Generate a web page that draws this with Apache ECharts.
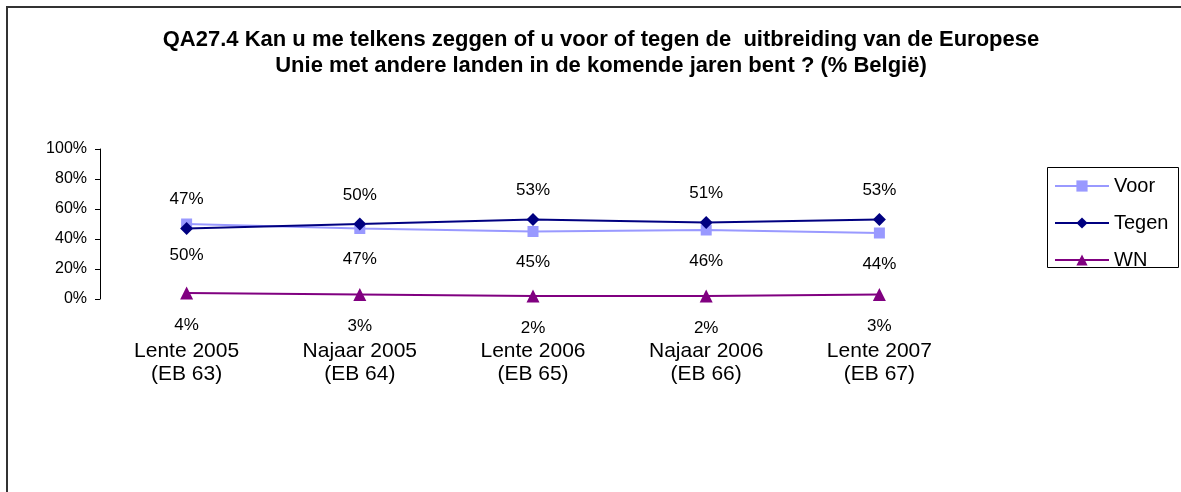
<!DOCTYPE html>
<html>
<head>
<meta charset="utf-8">
<script src="https://cdn.jsdelivr.net/npm/echarts@6/dist/echarts.min.js"></script>
<style>
  html, body { margin: 0; padding: 0; background: #fff; }
  #chart { width: 1181px; height: 492px; }
</style>
</head>
<body>
<div id="chart"></div>
<script>
// Survey waves (Eurobarometer) and answers in percent
const categories = ['Lente 2005\n(EB 63)', 'Najaar 2005\n(EB 64)', 'Lente 2006\n(EB 65)', 'Najaar 2006\n(EB 66)', 'Lente 2007\n(EB 67)'];
const voor = [50, 47, 45, 46, 44];
const tegen = [47, 50, 53, 51, 53];
const wn = [4, 3, 2, 2, 3];
const yTicks = [0, 20, 40, 60, 80, 100];

const titleLines = [
  'QA27.4 Kan u me telkens zeggen of u voor of tegen de  uitbreiding van de Europese',
  'Unie met andere landen in de komende jaren bent ? (% België)'
];

const FONT = '"Liberation Sans", Arial, sans-serif';

const chart = echarts.init(document.getElementById('chart'));

function lineSeries(name, data, color, symbol, size, labelPos, dist) {
  return {
    name: name,
    type: 'line',
    data: data,
    symbol: symbol,
    symbolSize: size,
    showAllSymbol: true,
    lineStyle: { color: color, width: 2 },
    itemStyle: { color: color },
    label: {
      show: true,
      position: labelPos,
      distance: dist,
      formatter: '{c}%',
      color: '#000',
      fontFamily: FONT,
      fontSize: 17
    },
    emphasis: { disabled: true },
    animation: false
  };
}

chart.setOption({
  animation: false,
  title: {
    text: titleLines.join('\n'),
    left: 596,
    top: 22,
    textAlign: 'center',
    textStyle: {
      fontFamily: FONT,
      fontWeight: 'bold',
      fontSize: 22,
      lineHeight: 26,
      color: '#000'
    }
  },
  graphic: [
    {
      type: 'rect',
      shape: { x: 7, y: 7, width: 1200, height: 520 },
      style: { fill: 'none', stroke: '#333', lineWidth: 2 },
      silent: true
    },
    {
      type: 'rect',
      shape: { x: 1047.5, y: 167.5, width: 131, height: 100 },
      style: { fill: 'none', stroke: '#000', lineWidth: 1 },
      silent: true
    }
  ],
  legend: {
    orient: 'vertical',
    left: 1054,
    top: 176,
    itemWidth: 54,
    itemHeight: 14,
    itemGap: 17,
    padding: 0,
    textStyle: { fontFamily: FONT, fontSize: 20, color: '#000' },
    data: ['Voor', 'Tegen', 'WN']
  },
  grid: { left: 100, right: 215, top: 149, bottom: 193, containLabel: false },
  xAxis: {
    type: 'category',
    data: categories,
    boundaryGap: true,
    axisLine: { show: false },
    axisTick: { show: false },
    axisLabel: {
      margin: 41,
      color: '#000',
      fontFamily: FONT,
      fontSize: 21,
      lineHeight: 23
    }
  },
  yAxis: {
    type: 'value',
    min: yTicks[0],
    max: yTicks[yTicks.length - 1],
    interval: yTicks[1] - yTicks[0],
    splitLine: { show: false },
    axisLine: { show: true, lineStyle: { color: '#000', width: 1 } },
    axisTick: { show: true, inside: false, length: 5, lineStyle: { color: '#000' } },
    axisLabel: {
      margin: 13,
      formatter: '{value}%',
      color: '#000',
      fontFamily: FONT,
      fontSize: 16
    }
  },
  series: [
    lineSeries('Voor', voor, '#9999FF', 'rect', 11, 'bottom', 17),
    lineSeries('Tegen', tegen, '#000080', 'diamond', 13, 'top', 14),
    lineSeries('WN', wn, '#800080', 'triangle', 13, 'bottom', 17)
  ]
});
</script>
</body>
</html>
